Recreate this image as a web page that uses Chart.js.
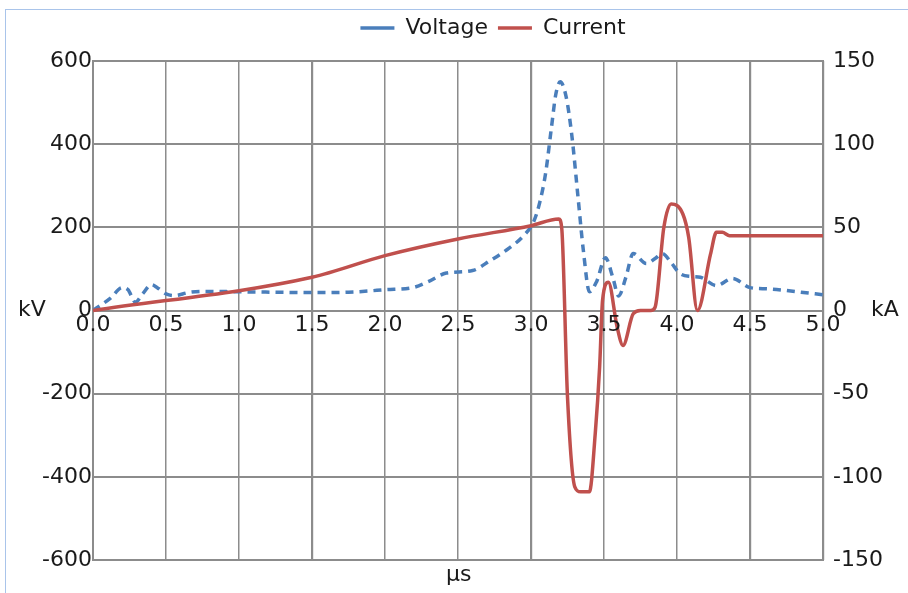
<!DOCTYPE html>
<html>
<head>
<meta charset="utf-8">
<script src="https://cdn.jsdelivr.net/npm/chart.js@4/dist/chart.umd.min.js"></script>
<style>
  html, body { margin: 0; padding: 0; background: #fff; }
  #wrap { position: relative; width: 908px; height: 593px; overflow: hidden; }
  #frame { position: absolute; left: 5px; top: 9px; right: -2px; bottom: -2px;
           border-left: 1px solid #a9c4ea; border-top: 1px solid #a9c4ea; }
  #chart { position: absolute; left: 0; top: 0; }
  .lbl { position: absolute; font: 22px 'DejaVu Sans', sans-serif; color: #1a1a1a; line-height: 26px; }
</style>
</head>
<body>
<div id="wrap">
  <div id="frame"></div>
  <canvas id="chart" width="908" height="593"></canvas>
  <div class="lbl" style="left:18px; top:296px">kV</div>
  <div class="lbl" style="left:871px; top:296px">kA</div>
  <div class="lbl" style="left:446px; top:561px">µs</div>
</div>
<script>
'use strict';

// time in µs, voltage in kV, current in kA
const voltageTime = [0, 0.12, 0.2, 0.24, 0.29, 0.34, 0.4, 0.44, 0.5, 0.56, 0.65, 0.75, 1.0, 1.25, 1.5, 1.75,
  2.0, 2.2, 2.3, 2.42, 2.6, 2.72, 2.85, 2.95, 3.02, 3.06, 3.1, 3.14, 3.17, 3.2, 3.24, 3.28, 3.32, 3.36,
  3.4, 3.45, 3.51, 3.56, 3.6, 3.65, 3.7, 3.79, 3.85, 3.9, 3.96, 4.02, 4.1, 4.16, 4.27, 4.38, 4.5, 4.62,
  4.75, 4.9, 5.0];
const voltageKV = [0, 30, 55, 50, 20, 40, 62, 55, 40, 36, 43, 46, 45, 44, 43, 44,
  50, 56, 70, 90, 96, 120, 150, 180, 215, 260, 330, 440, 520, 550, 515, 420, 280, 140,
  45, 70, 127, 80, 35, 80, 137, 113, 125, 137, 115, 89, 82, 80, 60, 77, 55, 52,
  48, 42, 38];

const currentTime = [0, 1.5, 2.0, 2.5, 3.0, 3.19, 3.21, 3.25, 3.3, 3.34, 3.4, 3.44, 3.47, 3.49, 3.53,
  3.59, 3.63, 3.7, 3.75, 3.82, 3.85, 3.91, 3.96, 4.04, 4.08, 4.14, 4.23, 4.27, 4.31, 4.36, 5.0];
const currentKA = [0, 20, 33, 43, 51, 55, 50, -52, -106, -109, -109, -74, -34, 6, 17,
  -10, -21, -2, 0, 0, 2, 50, 64, 58, 44, 0, 34, 47, 47, 45, 45];

const kvRange = [-600, 600];
const kaRange = [-150, 150];
const timeRange = [0, 5];

const textColor = '#1a1a1a';
const gridColor = '#8c8c8c';
const tickFont = { family: "'DejaVu Sans', sans-serif", size: 22 };

const toPoints = (xs, ys) => xs.map((x, i) => ({ x, y: ys[i] }));

// fixed legend height, and the legend sits a bit right of the canvas centre as in the reference
const legendTweak = {
  id: 'legendTweak',
  afterInit: (chart) => {
    const legend = chart.legend;
    const fit = legend.fit;
    legend.fit = function () {
      fit.call(this);
      this.height = 54;
    };
    const draw = legend.draw;
    legend.draw = function () {
      this.ctx.save();
      this.ctx.translate(39, 0);
      draw.call(this);
      this.ctx.restore();
    };
  },
};

new Chart(document.getElementById('chart'), {
  type: 'line',
  data: {
    datasets: [
      {
        label: 'Voltage',
        data: toPoints(voltageTime, voltageKV),
        borderColor: '#4a7ebb',
        backgroundColor: '#4a7ebb',
        borderWidth: 3.5,
        borderDash: [8, 6],
        pointRadius: 0,
        cubicInterpolationMode: 'monotone',
        yAxisID: 'y',
        order: 2,
      },
      {
        label: 'Current',
        data: toPoints(currentTime, currentKA),
        borderColor: '#c0504d',
        backgroundColor: '#c0504d',
        borderWidth: 3.5,
        pointRadius: 0,
        cubicInterpolationMode: 'monotone',
        yAxisID: 'y2',
        order: 1,
      },
    ],
  },
  options: {
    responsive: false,
    animation: false,
    layout: { padding: { left: 0, right: 0, top: 7, bottom: 33 } },
    plugins: {
      tooltip: { enabled: false },
      legend: {
        position: 'top',
        labels: {
          color: textColor,
          font: tickFont,
          usePointStyle: true,
          pointStyle: 'line',
          pointStyleWidth: 34,
          padding: 10,
          sort: (a, b) => a.datasetIndex - b.datasetIndex,
        },
      },
    },
    scales: {
      x: {
        type: 'linear',
        min: timeRange[0],
        max: timeRange[1],
        position: { y: 0 },
        ticks: {
          stepSize: 0.5,
          autoSkip: false,
          maxRotation: 0,
          padding: 2,
          z: 2,
          color: textColor,
          font: tickFont,
          callback: (v) => v.toFixed(1),
        },
        grid: {
          color: gridColor,
          lineWidth: (ctx) => ([3, 6, 9, 10].includes(ctx.index) ? 2.2 : 1.5),
          drawTicks: false,
        },
        border: { color: gridColor, width: 2 },
      },
      y: {
        position: 'left',
        min: kvRange[0],
        max: kvRange[1],
        ticks: { stepSize: 200, padding: 1, color: textColor, font: tickFont },
        grid: { color: gridColor, lineWidth: 2, drawTicks: false },
        border: { color: gridColor, width: 2 },
        afterFit: (scale) => { scale.width = 93; },
      },
      y2: {
        position: 'right',
        min: kaRange[0],
        max: kaRange[1],
        ticks: { stepSize: 50, padding: 10, color: textColor, font: tickFont },
        grid: { drawOnChartArea: false, drawTicks: false },
        border: { color: gridColor, width: 2 },
        afterFit: (scale) => { scale.width = 85; },
      },
    },
  },
  plugins: [legendTweak],
});
</script>
</body>
</html>
